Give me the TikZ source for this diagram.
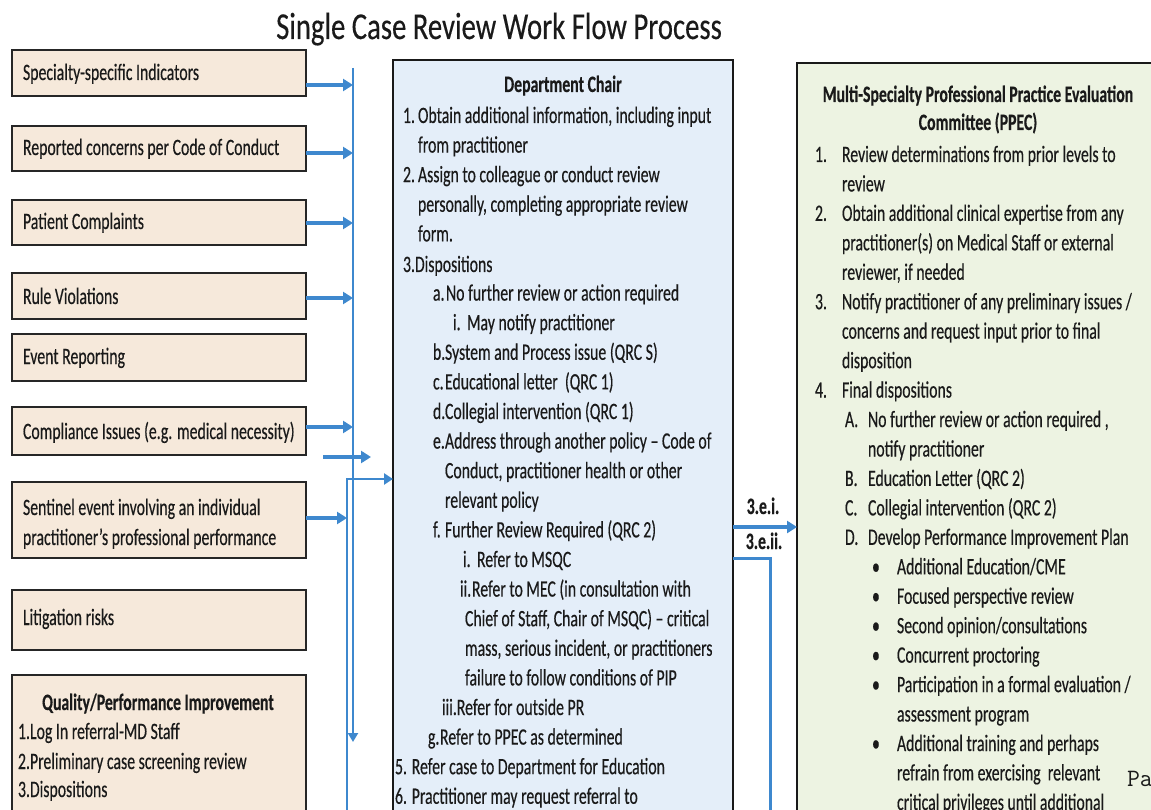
\documentclass[tikz,border=0pt]{standalone}
\usepackage{fontspec}
\setmainfont{Carlito}
\newfontfamily\bodyf{Carlito}[FakeStretch=0.672,FakeBold=0.35]
\newfontfamily\headf{Carlito}[FakeStretch=0.755,FakeBold=0.3]
\usetikzlibrary{arrows.meta}
\definecolor{flowblue}{RGB}{62,136,206}
\definecolor{srcfill}{RGB}{246,233,219}
\definecolor{chairfill}{RGB}{228,238,249}
\definecolor{ppecfill}{RGB}{237,243,226}
\definecolor{inkgray}{RGB}{26,26,26}
% one line of text, placed by its baseline
\newcommand\tx[4]{\node[txt] (#1) at (#2,#3) {#4};}
\begin{document}
\begin{tikzpicture}[x=1pt,y=-1pt,
  every node/.style={inner sep=0pt, outer sep=0pt},
  srcbox/.style={draw=black!85, line width=1.4pt, fill=srcfill, rectangle, anchor=north west, minimum width=294pt},
  panel/.style={draw=black!90, line width=1.6pt, rectangle, anchor=north west},
  txt/.style={anchor=base west, font=\bodyf\fontsize{23.5}{29.5}\selectfont, text=inkgray},
  hd/.style={anchor=base, font=\bodyf\bfseries\fontsize{23.5}{29.5}\selectfont, text=inkgray},
  feed/.style={draw=flowblue, line width=4pt, -{Triangle[length=10pt,width=12pt]}},
  wire/.style={draw=flowblue, line width=2.4pt},
]
\useasboundingbox (0,0) rectangle (1151,810);
\clip (0,0) rectangle (1151,810);
\fill[white] (0,0) rectangle (1151,810);

% title
\node[anchor=base, font=\headf\fontsize{38}{44}\selectfont, text=inkgray] (title) at (499,39) {Single Case Review Work Flow Process};

% referral sources
\node[srcbox, minimum height=46pt] (s1) at (12,50) {};
\node[srcbox, minimum height=45pt] (s2) at (12,126) {};
\node[srcbox, minimum height=45pt] (s3) at (12,200) {};
\node[srcbox, minimum height=46pt] (s4) at (12,273) {};
\node[srcbox, minimum height=47pt] (s5) at (12,334) {};
\node[srcbox, minimum height=48pt] (s6) at (12,407) {};
\node[srcbox, minimum height=76pt] (s7) at (12,482) {};
\node[srcbox, minimum height=60pt] (s8) at (12,590) {};
\node[srcbox, minimum height=170pt] (s9) at (12,675) {};

% review panels
\node[panel, fill=chairfill, minimum width=340pt, minimum height=800pt] (chair) at (393,60) {};
\node[panel, fill=ppecfill, minimum width=380pt, minimum height=800pt] (ppec) at (797,63) {};
\draw[black!90, line width=2.4pt] (ppec.north west) -- (ppec.south west);

% collecting bus and feeds
\coordinate (bustop) at (353,68);
\coordinate (busend) at (353,742);
\draw[wire, -{Triangle[length=9pt,width=10pt]}] (bustop) -- (busend);
\coordinate (loopstart) at (347,815);
\draw[wire, -{Triangle[length=9pt,width=11pt]}] (loopstart) |- (chair.west |- 0,479);

\draw[feed] (s1.east |- 0,85) -- (bustop |- 0,85);
\draw[feed] (s2.east |- 0,153) -- (bustop |- 0,153);
\draw[feed] (s3.east |- 0,223) -- (bustop |- 0,223);
\draw[feed] (s4.east |- 0,298) -- (bustop |- 0,298);
\draw[feed] (s6.east |- 0,427) -- (bustop |- 0,427);
\draw[feed] (s7.east |- 0,518) -- (loopstart |- 0,518);
\coordinate (stubA) at (323,457);
\coordinate (stubB) at (371,457);
\draw[feed] (stubA) -- (stubB);

% hand-off to the committee
\draw[feed] (chair.east |- 0,527) -- (ppec.west |- 0,527);
\coordinate (mecdown) at (770,815);
\draw[wire, line width=3pt] (chair.east |- 0,558) -| (mecdown);
\node[anchor=base, font=\bodyf\bfseries\fontsize{23.5}{29.5}\selectfont, text=inkgray] (l3ei) at (763,514) {3.e.i.};
\node[anchor=base, font=\bodyf\bfseries\fontsize{23.5}{29.5}\selectfont, text=inkgray] (l3eii) at (764,549) {3.e.ii.};

% source texts
\tx{s1t}{23}{80}{Specialty-specific Indicators}
\tx{s2t}{23}{155}{Reported concerns per Code of Conduct}
\tx{s3t}{23}{229}{Patient Complaints}
\tx{s4t}{23}{304}{Rule Violations}
\tx{s5t}{23}{364}{Event Reporting}
\tx{s6t}{23}{439}{Compliance Issues (e.g. medical necessity)}
\tx{s7t}{23}{515}{Sentinel event involving an individual}
\tx{s7u}{23}{545}{practitioner’s professional performance}
\tx{s8t}{23}{625}{Litigation risks}
\node[hd] (s9h) at (158,710) {Quality/Performance Improvement};
\tx{s9a}{18}{739}{1.Log In referral-MD Staff}
\tx{s9b}{18}{769}{2.Preliminary case screening review}
\tx{s9c}{18}{797}{3.Dispositions}

% department chair
\node[hd] (mh) at (563,92) {Department Chair};
\tx{m1l}{403}{123}{1.}\tx{m1}{418}{123}{Obtain additional information, including input}
\tx{m2}{418}{152.6}{from practitioner}
\tx{m3l}{403}{182.2}{2.}\tx{m3}{418}{182.2}{Assign to colleague or conduct review}
\tx{m4}{418}{211.8}{personally, completing appropriate review}
\tx{m5}{418}{241.4}{form.}
\tx{m6}{403}{272}{3.Dispositions}
\tx{m7l}{433}{300.6}{a.}\tx{m7}{446}{300.6}{No further review or action required}
\tx{m8l}{453}{330.2}{i.}\tx{m8}{467}{330.2}{May notify practitioner}
\tx{m9l}{433}{359.8}{b.}\tx{m9}{445}{359.8}{System and Process issue (QRC S)}
\tx{m10l}{433}{389.4}{c.}\tx{m10}{445}{389.4}{Educational letter\ \ (QRC 1)}
\tx{m11l}{433}{419}{d.}\tx{m11}{445}{419}{Collegial intervention (QRC 1)}
\tx{m12l}{433}{448.6}{e.}\tx{m12}{445}{448.6}{Address through another policy – Code of}
\tx{m13}{445}{478.2}{Conduct, practitioner health or other}
\tx{m14}{445}{507.8}{relevant policy}
\tx{m15l}{433}{537.4}{f.}\tx{m15}{445}{537.4}{Further Review Required (QRC 2)}
\tx{m16l}{463}{567}{i.}\tx{m16}{477}{567}{Refer to MSQC}
\tx{m17l}{460}{596.6}{ii.}\tx{m17}{472}{596.6}{Refer to MEC (in consultation with}
\tx{m18}{465}{626.2}{Chief of Staff, Chair of MSQC) – critical}
\tx{m19}{465}{655.8}{mass, serious incident, or practitioners}
\tx{m20}{465}{685.4}{failure to follow conditions of PIP}
\tx{m21}{442}{715}{iii.Refer for outside PR}
\tx{m22l}{428}{744.6}{g.}\tx{m22}{440}{744.6}{Refer to PPEC as determined}
\tx{m23}{395}{774.2}{5. Refer case to Department for Education}
\tx{m24}{395}{803.8}{6. Practitioner may request referral to}

% committee
\node[hd] (ph1) at (978,102) {Multi-Specialty Professional Practice Evaluation};
\node[hd] (ph2) at (978,130) {Committee (PPEC)};
\tx{p1l}{815}{162}{1.}\tx{p1}{842}{162}{Review determinations from prior levels to}
\tx{p2}{842}{191.45}{review}
\tx{p3l}{815}{220.9}{2.}\tx{p3}{842}{220.9}{Obtain additional clinical expertise from any}
\tx{p4}{842}{250.35}{practitioner(s) on Medical Staff or external}
\tx{p5}{842}{279.8}{reviewer, if needed}
\tx{p6l}{815}{309.25}{3.}\tx{p6}{842}{309.25}{Notify practitioner of any preliminary issues /}
\tx{p7}{842}{338.7}{concerns and request input prior to final}
\tx{p8}{842}{368.15}{disposition}
\tx{p9l}{815}{397.6}{4.}\tx{p9}{842}{397.6}{Final dispositions}
\tx{p10l}{845}{427.05}{A.}\tx{p10}{868}{427.05}{No further review or action required ,}
\tx{p11}{868}{456.5}{notify practitioner}
\tx{p12l}{845}{485.95}{B.}\tx{p12}{868}{485.95}{Education Letter (QRC 2)}
\tx{p13l}{845}{515.4}{C.}\tx{p13}{868}{515.4}{Collegial intervention (QRC 2)}
\tx{p14l}{845}{544.85}{D.}\tx{p14}{868}{544.85}{Develop Performance Improvement Plan}
\tx{p15l}{872}{574.3}{•}\tx{p15}{897}{574.3}{Additional Education/CME}
\tx{p16l}{872}{603.75}{•}\tx{p16}{897}{603.75}{Focused perspective review}
\tx{p17l}{872}{633.2}{•}\tx{p17}{897}{633.2}{Second opinion/consultations}
\tx{p18l}{872}{662.65}{•}\tx{p18}{897}{662.65}{Concurrent proctoring}
\tx{p19l}{872}{692.1}{•}\tx{p19}{897}{692.1}{Participation in a formal evaluation /}
\tx{p20}{897}{721.55}{assessment program}
\tx{p21l}{872}{751}{•}\tx{p21}{897}{751}{Additional training and perhaps}
\tx{p22}{897}{780.45}{refrain from exercising\ \ relevant}
\tx{p23}{897}{809.9}{critical privileges until additional}

% page footer fragment
\node[anchor=base west, font=\ttfamily\fontsize{25}{28}\selectfont, text=inkgray] (pg) at (1127,786) {Pa};
\end{tikzpicture}
\end{document}
